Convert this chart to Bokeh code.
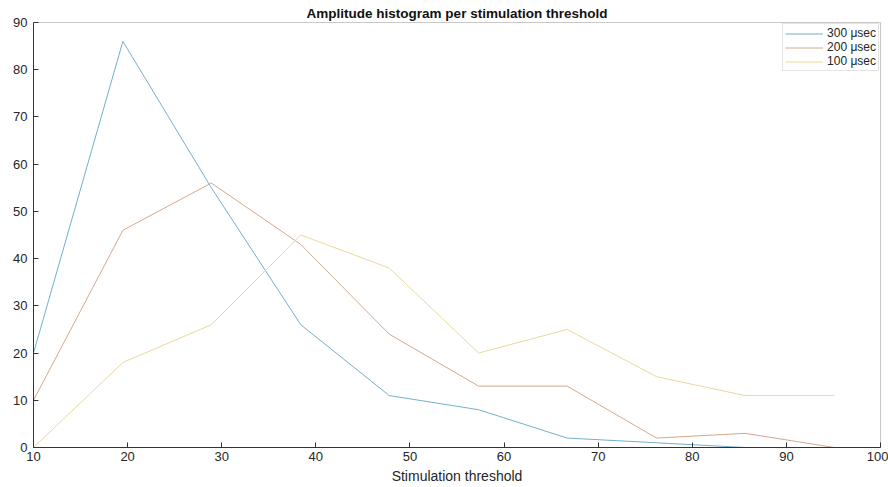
from bokeh.plotting import figure
from bokeh.models import Range1d, FixedTicker, Legend, LegendItem, Title
from bokeh.embed import file_html
from bokeh.resources import INLINE

# Data
thresholds = [10, 19.5, 28.9, 38.4, 47.8, 57.3, 66.7, 76.2, 85.6, 95.1]
amp_300 = [20, 86, 55, 26, 11, 8, 2, 1, 0, 0]
amp_200 = [10, 46, 56, 43, 24, 13, 13, 2, 3, 0]
amp_100 = [0, 18, 26, 45, 38, 20, 25, 15, 11, 11]
series_labels = ["300 \u03bcsec", "200 \u03bcsec", "100 \u03bcsec"]
x_ticks = [10, 20, 30, 40, 50, 60, 70, 80, 90, 100]
y_ticks = [0, 10, 20, 30, 40, 50, 60, 70, 80, 90]

colors = ["#72b0cc", "#d6a88c", "#e8d99c"]
FONT = "Liberation Sans"

p = figure(width=888, height=487, output_backend="svg", toolbar_location=None,
           x_range=Range1d(10, 100), y_range=Range1d(0, 90),
           min_border_left=33, min_border_right=8, min_border_top=22, min_border_bottom=40,
           x_axis_label="Stimulation threshold")
p.title = None
p.add_layout(Title(text="Amplitude histogram per stimulation threshold", align="center",
                   text_font=FONT, text_font_size="13.5px", text_font_style="bold",
                   text_color="#111111", offset=0, standoff=3), "above")

p.background_fill_color = "white"
p.border_fill_color = "white"
p.outline_line_color = "#c8c8c8"
p.grid.visible = False

for ax in (p.xaxis[0], p.yaxis[0]):
    ax.axis_line_color = "#333333"
    ax.major_tick_line_color = "#333333"
    ax.major_tick_in = 5
    ax.major_tick_out = 0
    ax.minor_tick_line_color = None
    ax.major_label_text_font = FONT
    ax.major_label_text_font_size = "13px"
    ax.major_label_text_color = "#262626"
    ax.axis_label_text_font = FONT
    ax.axis_label_text_font_size = "14px"
    ax.axis_label_text_font_style = "normal"
    ax.axis_label_text_color = "#262626"
p.xaxis[0].ticker = FixedTicker(ticks=x_ticks)
p.yaxis[0].ticker = FixedTicker(ticks=y_ticks)
p.xaxis[0].axis_label_standoff = 4
p.xaxis[0].major_label_standoff = 4
p.yaxis[0].major_label_standoff = 6

r1 = p.line(thresholds, amp_300, line_color=colors[0], line_width=1)
r2 = p.line(thresholds, amp_200, line_color=colors[1], line_width=1)
r3 = p.line(thresholds, amp_100, line_color=colors[2], line_width=1)

legend = Legend(items=[LegendItem(label=series_labels[0], renderers=[r1]),
                       LegendItem(label=series_labels[1], renderers=[r2]),
                       LegendItem(label=series_labels[2], renderers=[r3])],
                location="top_right", margin=1, padding=2, spacing=0,
                label_text_font=FONT, label_text_font_size="12px",
                label_text_color="#262626", label_height=13, glyph_height=13,
                glyph_width=38, label_standoff=4,
                border_line_color="#c8c8c8", background_fill_alpha=1)
p.add_layout(legend, "center")

out = file_html(p, INLINE)
open("out.html", "w").write(out)
